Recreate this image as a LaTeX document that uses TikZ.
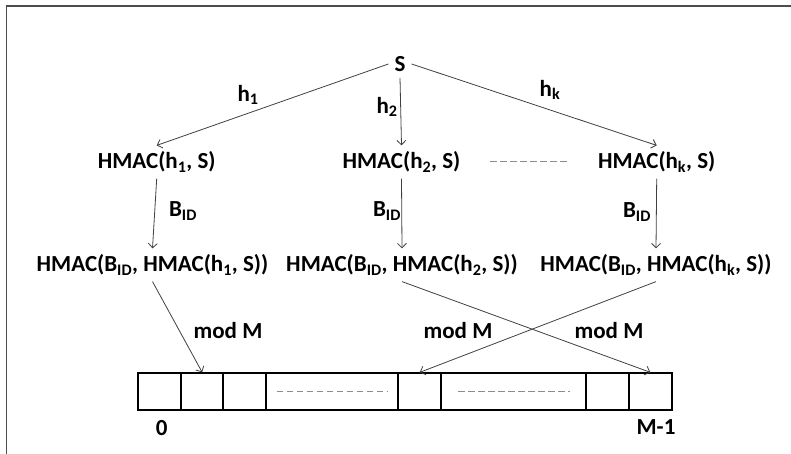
\documentclass[tikz,border=0pt]{standalone}
\usepackage{fontspec}
\setmainfont{Carlito}
\usepackage{tikz}
\usetikzlibrary{positioning, arrows.meta}

\tikzset{
  lbl/.style={text centered, font=\fontsize{23}{27}\selectfont\bfseries, inner sep=6pt},
  cell/.style={draw, line width=2pt, minimum height=36.7pt, inner sep=0pt},
  arr/.style={-{Straight Barb[length=4.5pt, width=9pt]}, draw=black!75, line width=0.8pt},
  gap/.style={draw=black!45, line width=1pt, dash pattern=on 6.5pt off 3.5pt},
}

\begin{document}
\begin{tikzpicture}[x=1pt, y=-1pt]
     \useasboundingbox (0,0) rectangle (791,454);
     \draw[black!70, line width=1.5pt] (6.5,454) -- (6.5,6) -- (791,6);

     \node[lbl] (s) at (400, 64) {S};

     \node[lbl] (ha) at (156.7, 162) {HMAC(h\textsubscript{1}, S)};
     \node[lbl] (hb) at (401.5, 162) {HMAC(h\textsubscript{2}, S)};
     \node[lbl] (hk) at (656.7, 162) {HMAC(h\textsubscript{k}, S)};

     \node[lbl] (ra) at (152.5, 265) {HMAC(B\textsubscript{ID}, HMAC(h\textsubscript{1}, S))};
     \node[lbl] (rb) at (402, 265) {HMAC(B\textsubscript{ID}, HMAC(h\textsubscript{2}, S))};
     \node[lbl] (rk) at (656, 265) {HMAC(B\textsubscript{ID}, HMAC(h\textsubscript{k}, S))};

     % labels on the connectors
     \node[lbl] (la) at (248, 95) {h\textsubscript{1}};
     \node[lbl] (lb) at (387, 107) {h\textsubscript{2}};
     \node[lbl] (lk) at (550, 90) {h\textsubscript{k}};
     \node[lbl] (ba) at (183, 211) {B\textsubscript{ID}};
     \node[lbl] (bb) at (387, 211) {B\textsubscript{ID}};
     \node[lbl] (bk) at (637, 212) {B\textsubscript{ID}};
     \node[lbl] (ma) at (228, 331) {mod M};
     \node[lbl] (mb) at (458, 331) {mod M};
     \node[lbl] (mk) at (609, 331) {mod M};

     % the table
     \node[cell, minimum width=42.7pt]  (c1) at (159.7, 391.7) {};
     \node[cell, minimum width=42.3pt]  (c2) at (202.2, 391.7) {};
     \node[cell, minimum width=42.4pt]  (c3) at (244.5, 391.7) {};
     \node[cell, minimum width=132.6pt] (c4) at (332.0, 391.7) {};
     \node[cell, minimum width=42.7pt]  (c5) at (419.7, 391.7) {};
     \node[cell, minimum width=144.7pt] (c6) at (513.4, 391.7) {};
     \node[cell, minimum width=43.3pt]  (c7) at (607.4, 391.7) {};
     \node[cell, minimum width=42.7pt]  (c8) at (650.4, 391.7) {};
     \draw[gap] ([xshift=12pt]c4.west) -- ([xshift=-11pt]c4.east);
     \draw[gap] ([xshift=18pt]c6.west) -- ([xshift=-17pt]c6.east);

     \node[lbl] (zero) at (161.7, 428) {0};
     \node[lbl] (last) at (656, 427) {M-1};

     \coordinate (dl) at (490, 162);
     \coordinate (dr) at (567, 162);
     \draw[gap] (dl) -- (dr);

     \draw[arr] (s.west) -- (ha.north);
     \draw[arr] (s.south) -- (hb.north);
     \draw[arr] (s.east) -- (hk.north);

     \draw[arr] (ha.south) -- (ra.north);
     \draw[arr] (hb.south) -- (rb.north);
     \draw[arr] (hk.south) -- (rk.north);

     \draw[arr] (ra.south) -- (c2.north);
     \draw[arr] (rb.south) -- (c8.north);
     \draw[arr] (rk.south) -- (c5.north);
   \end{tikzpicture}
\end{document}
